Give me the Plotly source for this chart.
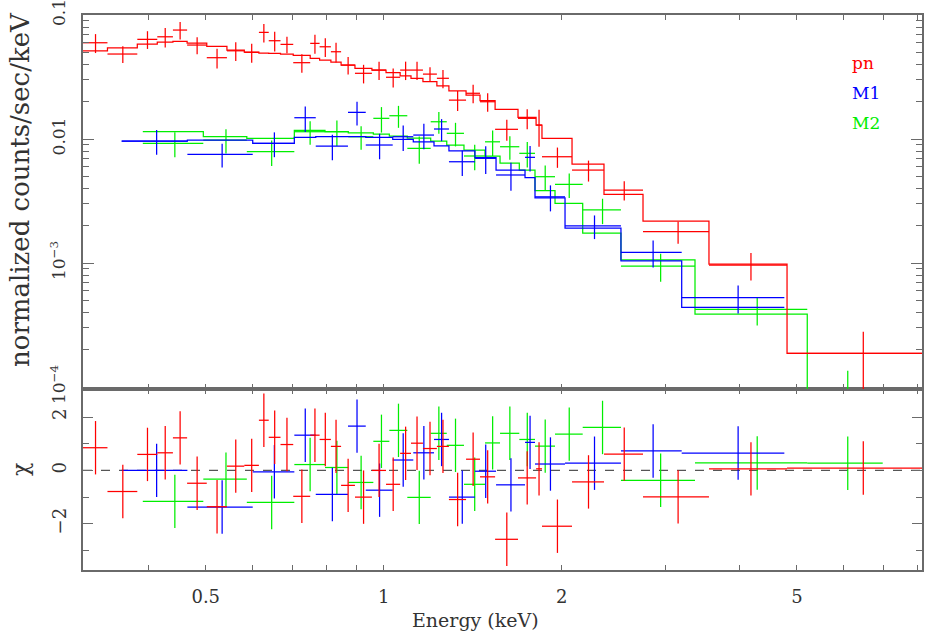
import numpy as np
import plotly.graph_objects as go

# ---------------- data ----------------
# EPIC-pn
pn_edges = [0.310, 0.341, 0.383, 0.414, 0.440, 0.465, 0.502, 0.543, 0.581, 0.615, 0.639,
            0.669, 0.703, 0.751, 0.779, 0.814, 0.847, 0.894, 0.955, 1.009, 1.066, 1.112,
            1.165, 1.230, 1.289, 1.378, 1.455, 1.543, 1.687, 1.810, 1.852, 2.082, 2.358,
            2.745, 3.549, 4.810, 8.136]
pn_rate = [0.0598, 0.0485, 0.0637, 0.0668, 0.0757, 0.0573, 0.0453, 0.0515, 0.0500, 0.0725,
           0.0621, 0.0580, 0.0413, 0.0591, 0.0555, 0.0506, 0.0395, 0.0339, 0.0360, 0.0315,
           0.0360, 0.0360, 0.0334, 0.0309, 0.0206, 0.0234, 0.0200, 0.01198, 0.01469, 0.01297,
           0.00720, 0.00562, 0.00388, 0.00179, 0.000964, 0.000187]
pn_err = [0.0104, 0.0075, 0.0104, 0.0120, 0.0121, 0.0089, 0.0082, 0.0088, 0.0088, 0.0124,
          0.0112, 0.0089, 0.0070, 0.0104, 0.0095, 0.0091, 0.0064, 0.0058, 0.0061, 0.0055,
          0.0061, 0.0061, 0.0046, 0.0052, 0.0038, 0.0040, 0.0034, 0.0023, 0.0027, 0.0043,
          0.00134, 0.00108, 0.00068, 0.00036, 0.00024, 0.000092]
pn_model = [0.0515, 0.0545, 0.0584, 0.0606, 0.0614, 0.0595, 0.0559, 0.0522, 0.0503, 0.0494,
            0.0491, 0.0485, 0.0473, 0.0448, 0.0434, 0.0418, 0.0395, 0.0372, 0.0360, 0.0343,
            0.0324, 0.0309, 0.0290, 0.0268, 0.0245, 0.0226, 0.0204, 0.01736, 0.01496, 0.01297,
            0.01013, 0.00629, 0.00358, 0.00218, 0.000982, 0.000187]
pn_chi = [0.85, -0.79, 0.60, 0.66, 1.22, -0.48, -1.36, 0.16, 0.19, 1.88,
          1.24, 0.97, -0.97, 1.32, 1.16, 0.90, -0.56, -1.00, 0.00, -0.52,
          0.64, 1.02, 0.82, 0.90, -1.09, 0.42, -0.24, -2.58, -0.28, 0.06,
          -2.09, -0.43, 0.61, -0.99, 0.06, 0.09]

# MOS1
m1_edges = [0.3604, 0.4655, 0.6004, 0.7060, 0.7674, 0.8700, 0.9324, 1.0356, 1.1220, 1.2163,
            1.2892, 1.4266, 1.5487, 1.7338, 1.8024, 2.0260, 2.5191, 3.1914, 4.7597]
m1_rate = [0.00964, 0.00753, 0.00923, 0.01486, 0.00878, 0.01642, 0.00895, 0.01044, 0.01077,
           0.01205, 0.00656, 0.00699, 0.00513, 0.00712, 0.00342, 0.00199, 0.00122, 0.000525]
m1_err = [0.00217, 0.00163, 0.00209, 0.00345, 0.00204, 0.00355, 0.00208, 0.00242, 0.00250,
          0.00243, 0.00152, 0.00177, 0.00130, 0.00165, 0.00081, 0.00043, 0.00030, 0.000133]
m1_model = [0.00964, 0.00982, 0.00923, 0.01032, 0.01044, 0.01044, 0.01032, 0.00994, 0.00950,
            0.00883, 0.00804, 0.00707, 0.00562, 0.00488, 0.00336, 0.00191, 0.00104, 0.00044]
m1_chi = [0.00, -1.37, -0.05, 1.32, -0.90, 1.66, -0.74, 0.39, 0.66,
          1.16, -1.00, -0.03, -0.54, 1.05, 0.24, 0.27, 0.73, 0.65]

# MOS2
m2_edges = [0.3913, 0.4953, 0.5867, 0.7060, 0.7955, 0.8711, 0.9603, 1.0221, 1.0962, 1.2007,
            1.2782, 1.3669, 1.4836, 1.5730, 1.6956, 1.8024, 1.9486, 2.1704, 2.5191, 3.3610,
            5.204, 6.982]
m2_rate = [0.00923, 0.00982, 0.00790, 0.01146, 0.01146, 0.01044, 0.01469, 0.01542, 0.00841,
           0.01379, 0.01112, 0.00730, 0.00950, 0.00867, 0.00767, 0.00497, 0.00431, 0.00268,
           0.000946, 0.000423, 0.000075]
m2_err = [0.00209, 0.00219, 0.00183, 0.00248, 0.00266, 0.00226, 0.00341, 0.00310, 0.00208,
          0.00276, 0.00240, 0.00169, 0.00220, 0.00187, 0.00178, 0.00115, 0.00097, 0.00062,
          0.00024, 0.00011, 0.00006]
m2_model = [0.01146, 0.01044, 0.01013, 0.01175, 0.01146, 0.01124, 0.01097, 0.01057, 0.01018,
            0.00964, 0.00895, 0.00815, 0.00730, 0.00640, 0.00562, 0.00383, 0.00303, 0.00174,
            0.00106, 0.000388, 0.000050]
m2_chi = [-1.16, -0.33, -1.20, 0.22, 0.11, -0.45, 1.09, 1.50, -1.01, 1.39, 0.94, -0.52,
          1.03, 1.39, 1.16, 0.91, 1.36, 1.61, -0.37, 0.28, 0.27]

x_ticks = [0.5, 1, 2, 5]
x_ticktext = ["0.5", "1", "2", "5"]
y_ticks = [1e-4, 1e-3, 1e-2, 1e-1]
y_ticktext = ["10<sup>\u22124</sup>", "10<sup>\u22123</sup>", "0.01", "0.1"]
chi_ticks = [-2, 0, 2]
chi_ticktext = ["\u22122", "0", "2"]
labels = ["pn", "M1", "M2"]

# ---------------- styling ----------------
RED, BLUE, GREEN = "#ff0000", "#0000ff", "#00ee00"
AX = "#6a6a6a"
FONT = "DejaVu Serif"
TXT = "#333333"
LW = 1.25

datasets = [
    (m2_edges, m2_rate, m2_err, m2_model, m2_chi, GREEN),
    (m1_edges, m1_rate, m1_err, m1_model, m1_chi, BLUE),
    (pn_edges, pn_rate, pn_err, pn_model, pn_chi, RED),
]

fig = go.Figure()
for edges, rate, err, model, chi, col in datasets:
    e = np.array(edges)
    lo, hi = e[:-1], e[1:]
    xc = (lo + hi) / 2.0
    xh = (hi - lo) / 2.0
    # model step line
    fig.add_trace(go.Scatter(
        x=e, y=list(model) + [model[-1]], mode="lines",
        line=dict(color=col, width=LW, shape="hv"),
        xaxis="x2", yaxis="y2", hoverinfo="skip", showlegend=False))
    # data crosses
    fig.add_trace(go.Scatter(
        x=xc, y=rate, mode="markers",
        marker=dict(size=1, color=col, opacity=0),
        error_x=dict(type="data", array=xh, color=col, thickness=LW, width=0),
        error_y=dict(type="data", array=err, color=col, thickness=LW, width=0),
        xaxis="x2", yaxis="y2", showlegend=False))
    # residual crosses
    fig.add_trace(go.Scatter(
        x=xc, y=chi, mode="markers",
        marker=dict(size=1, color=col, opacity=0),
        error_x=dict(type="data", array=xh, color=col, thickness=LW, width=0),
        error_y=dict(type="constant", value=1.0, color=col, thickness=LW, width=0),
        xaxis="x", yaxis="y", showlegend=False))

xr = [np.log10(0.31), np.log10(8.136)]
split = 181.0 / 555.0

common = dict(showline=True, linecolor=AX, linewidth=1.6, mirror="allticks",
              ticks="inside", tickcolor=AX, tickwidth=1.3, showgrid=False,
              zeroline=False, automargin=False)
xminor = dict(tickvals=[0.4, 0.6, 0.7, 0.8, 0.9, 3, 4, 6, 7, 8], ticks="inside",
              ticklen=5, tickcolor=AX, tickwidth=1.3, showgrid=False)
over = dict(type="log", range=xr, tickvals=[1], ticks="inside", ticklen=12,
            tickcolor=AX, tickwidth=1.6, mirror="allticks", showline=False,
            showticklabels=False, showgrid=False, zeroline=False, automargin=False)

fig.update_layout(
    width=934, height=642,
    margin=dict(l=83, r=12, t=15, b=72, autoexpand=False),
    paper_bgcolor="white", plot_bgcolor="white",
    showlegend=False,
    font=dict(family=FONT, color=TXT, size=16),
    xaxis=dict(type="log", range=xr, domain=[0, 1], anchor="y",
               tickvals=x_ticks, ticktext=x_ticktext, ticklen=5, ticklabelstandoff=10,
               tickfont=dict(size=18, family=FONT, color=TXT),
               minor=xminor, **common),
    xaxis2=dict(type="log", range=xr, domain=[0, 1], anchor="y2", matches="x",
                tickvals=x_ticks, ticklen=5, showticklabels=False,
                minor=xminor, **common),
    xaxis3=dict(overlaying="x", anchor="y", **over),
    xaxis4=dict(overlaying="x2", anchor="y2", **over),
    yaxis=dict(domain=[0, split], anchor="x", range=[-3.73, 3.05],
               tickvals=chi_ticks, ticktext=chi_ticktext, ticklen=10, tickangle=-90,
               ticklabelstandoff=8, ticklabeloverflow="allow",
               tickfont=dict(size=18, family=FONT, color=TXT),
               minor=dict(tickvals=[-3, -1, 1, 3], ticks="inside", ticklen=6,
                          tickcolor=AX, tickwidth=1.3, showgrid=False),
               **common),
    yaxis2=dict(domain=[split, 1], anchor="x2", type="log",
                range=[np.log10(9.64e-5), -0.9995],
                tickvals=y_ticks, ticktext=y_ticktext, ticklen=11, tickangle=-90,
                ticklabelstandoff=9, ticklabeloverflow="allow",
                tickfont=dict(size=17, family=FONT, color=TXT),
                minor=dict(tickvals=[k * 10.0 ** d for d in range(-5, -1) for k in range(2, 10)],
                           ticks="inside", ticklen=6, tickcolor=AX, tickwidth=1.3,
                           showgrid=False),
                **common),
)

# zero reference line in residual panel
fig.add_shape(type="line", xref="x domain", x0=0, x1=1, yref="y", y0=0, y1=0,
              line=dict(color="#555555", width=1.2, dash="dash"), layer="below")

# axis titles and labels
def ann(text, xpx, ypx, size, color=TXT, angle=0, xanchor="center"):
    fig.add_annotation(text=text, xref="paper", yref="paper",
                       x=(xpx - 83) / 839.0, y=(570 - ypx) / 555.0,
                       xanchor=xanchor, yanchor="middle", textangle=angle,
                       showarrow=False, font=dict(size=size, family=FONT, color=color))

ann("normalized counts/sec/keV", 20, 190, 26, angle=-90)
ann("\u03c7", 20, 470, 22, angle=-90)
ann("Energy (keV)", 475, 620, 19)
for lab, col, ypx in zip(labels, [RED, BLUE, GREEN], [63, 93, 123]):
    ann(lab, 850, ypx, 17, color=col, xanchor="left")

fig.write_html("out.html", config={"displayModeBar": False},
               post_script="document.body.style.margin='0';")
